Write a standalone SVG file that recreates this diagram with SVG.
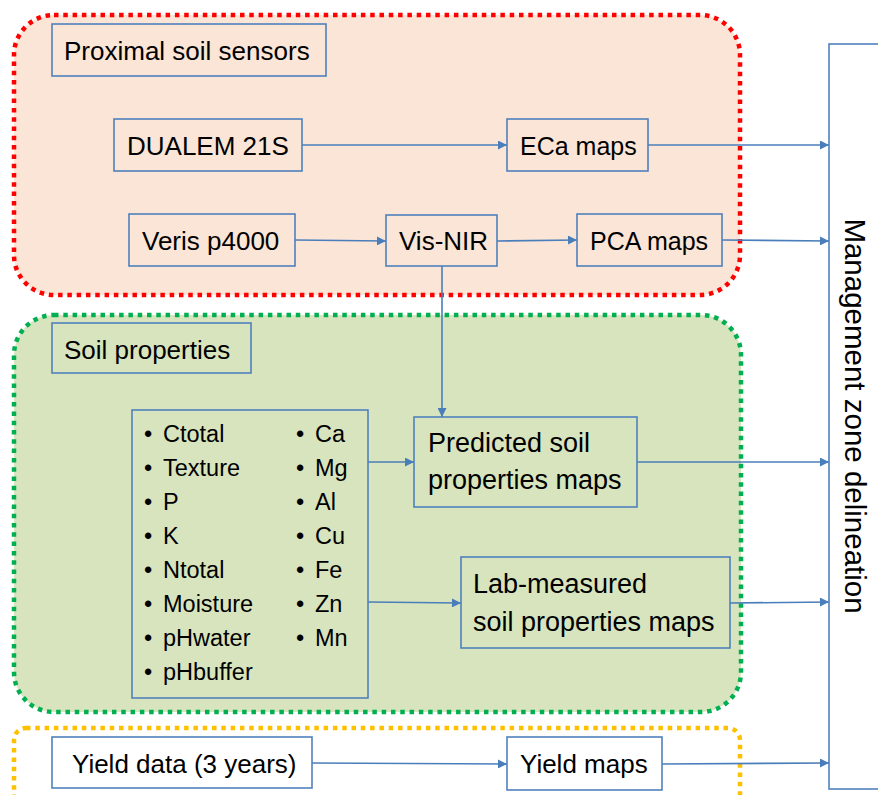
<svg xmlns="http://www.w3.org/2000/svg" width="878" height="795" viewBox="0 0 878 795">
  <defs>
    <marker id="arrow" viewBox="0 0 10 10" refX="10" refY="5" markerWidth="10" markerHeight="9" markerUnits="userSpaceOnUse" orient="auto">
      <path d="M0,0 L10,5 L0,10 z" fill="#4A7EBB"/>
    </marker>
    <style>
      .group-red { fill: #FBE5D6; stroke: #FF0000; stroke-width: 4.5; stroke-dasharray: 4.5 4.8; }
      .group-green { fill: #D7E4BD; stroke: #00B050; stroke-width: 4.5; stroke-dasharray: 4.5 4.8; }
      .group-yellow { fill: #FFFFFF; stroke: #FFC000; stroke-width: 4.5; stroke-dasharray: 4.5 4.8; }
      .box { fill: none; stroke: #4F81BD; stroke-width: 1.6; }
      .box-white { fill: #FFFFFF; stroke: #4F81BD; stroke-width: 1.6; }
      .label { font-family: "Liberation Sans", Arial, sans-serif; font-size: 26px; fill: #000000; }
      .label.small { font-size: 25px; }
      .label.wide { font-size: 27px; }
      .label.vertical { font-size: 29.5px; }
      .item { font-family: "Liberation Sans", Arial, sans-serif; font-size: 23.5px; fill: #000000; }
      .link { fill: none; stroke: #4A7EBB; stroke-width: 1.6; marker-end: url(#arrow); }
    </style>
  </defs>

  <rect width="878" height="795" fill="#FFFFFF"/>

  <!-- grouping panels -->
  <g id="panel-sensors">
    <rect class="group-red" x="14" y="15" width="726" height="280" rx="40" ry="40"/>
  </g>
  <g id="panel-soil">
    <rect class="group-green" x="14" y="315" width="727" height="397" rx="40" ry="40"/>
  </g>
  <g id="panel-yield">
    <rect class="group-yellow" x="14" y="728" width="726" height="100" rx="12" ry="12"/>
  </g>

  <!-- connectors -->
  <g id="connectors">
    <path class="link" d="M302,145 L507,145"/>
    <path class="link" d="M648,145 L829,145"/>
    <path class="link" d="M295,240 L386,241"/>
    <path class="link" d="M497,241 L577,240"/>
    <path class="link" d="M722,240 L829,241"/>
    <path class="link" d="M442,266 L442,417"/>
    <path class="link" d="M368,462 L414,462"/>
    <path class="link" d="M637,462 L829,462"/>
    <path class="link" d="M368,602 L461,603"/>
    <path class="link" d="M730,603 L829,602"/>
    <path class="link" d="M312,763 L507,764"/>
    <path class="link" d="M662,764 L829,763"/>
  </g>

  <!-- nodes -->
  <g id="node-proximal">
    <rect class="box" x="52" y="24" width="274" height="52"/>
    <text class="label" x="64" y="60">Proximal soil sensors</text>
  </g>
  <g id="node-dualem">
    <rect class="box" x="114" y="119" width="188" height="52"/>
    <text class="label" x="127" y="155">DUALEM 21S</text>
  </g>
  <g id="node-eca">
    <rect class="box" x="507" y="119" width="141" height="52"/>
    <text class="label small" x="520" y="155">ECa maps</text>
  </g>
  <g id="node-veris">
    <rect class="box" x="129" y="214" width="166" height="52"/>
    <text class="label" x="142" y="250">Veris p4000</text>
  </g>
  <g id="node-visnir">
    <rect class="box" x="386" y="215" width="111" height="51"/>
    <text class="label" x="399" y="250">Vis-NIR</text>
  </g>
  <g id="node-pca">
    <rect class="box" x="577" y="214" width="145" height="52"/>
    <text class="label small" x="590" y="250">PCA maps</text>
  </g>

  <g id="node-soil-properties">
    <rect class="box" x="52" y="323" width="199" height="50"/>
    <text class="label" x="64" y="359">Soil properties</text>
  </g>
  <g id="node-property-list">
    <rect class="box" x="132" y="410" width="236" height="288"/>
    <g class="item">
      <text x="144" y="442">•</text><text x="163" y="442">Ctotal</text>
      <text x="144" y="476">•</text><text x="163" y="476">Texture</text>
      <text x="144" y="510">•</text><text x="163" y="510">P</text>
      <text x="144" y="544">•</text><text x="163" y="544">K</text>
      <text x="144" y="578">•</text><text x="163" y="578">Ntotal</text>
      <text x="144" y="612">•</text><text x="163" y="612">Moisture</text>
      <text x="144" y="646">•</text><text x="163" y="646">pHwater</text>
      <text x="144" y="680">•</text><text x="163" y="680">pHbuffer</text>
      <text x="296" y="442">•</text><text x="315" y="442">Ca</text>
      <text x="296" y="476">•</text><text x="315" y="476">Mg</text>
      <text x="296" y="510">•</text><text x="315" y="510">Al</text>
      <text x="296" y="544">•</text><text x="315" y="544">Cu</text>
      <text x="296" y="578">•</text><text x="315" y="578">Fe</text>
      <text x="296" y="612">•</text><text x="315" y="612">Zn</text>
      <text x="296" y="646">•</text><text x="315" y="646">Mn</text>
    </g>
  </g>
  <g id="node-predicted">
    <rect class="box" x="414" y="417" width="223" height="90"/>
    <text class="label wide" x="428" y="452">Predicted soil</text>
    <text class="label wide" x="428" y="489">properties maps</text>
  </g>
  <g id="node-lab">
    <rect class="box" x="461" y="557" width="269" height="91"/>
    <text class="label wide" x="473" y="593">Lab-measured</text>
    <text class="label wide" x="473" y="631">soil properties maps</text>
  </g>

  <g id="node-yield-data">
    <rect class="box-white" x="52" y="737" width="260" height="51"/>
    <text class="label" x="72" y="773">Yield data (3 years)</text>
  </g>
  <g id="node-yield-maps">
    <rect class="box-white" x="507" y="737" width="155" height="53"/>
    <text class="label" x="520" y="773">Yield maps</text>
  </g>

  <g id="node-management">
    <rect class="box-white" x="829" y="44" width="80" height="745"/>
    <text class="label vertical" text-anchor="middle" transform="translate(845,416) rotate(90)">Management zone delineation</text>
  </g>
</svg>
